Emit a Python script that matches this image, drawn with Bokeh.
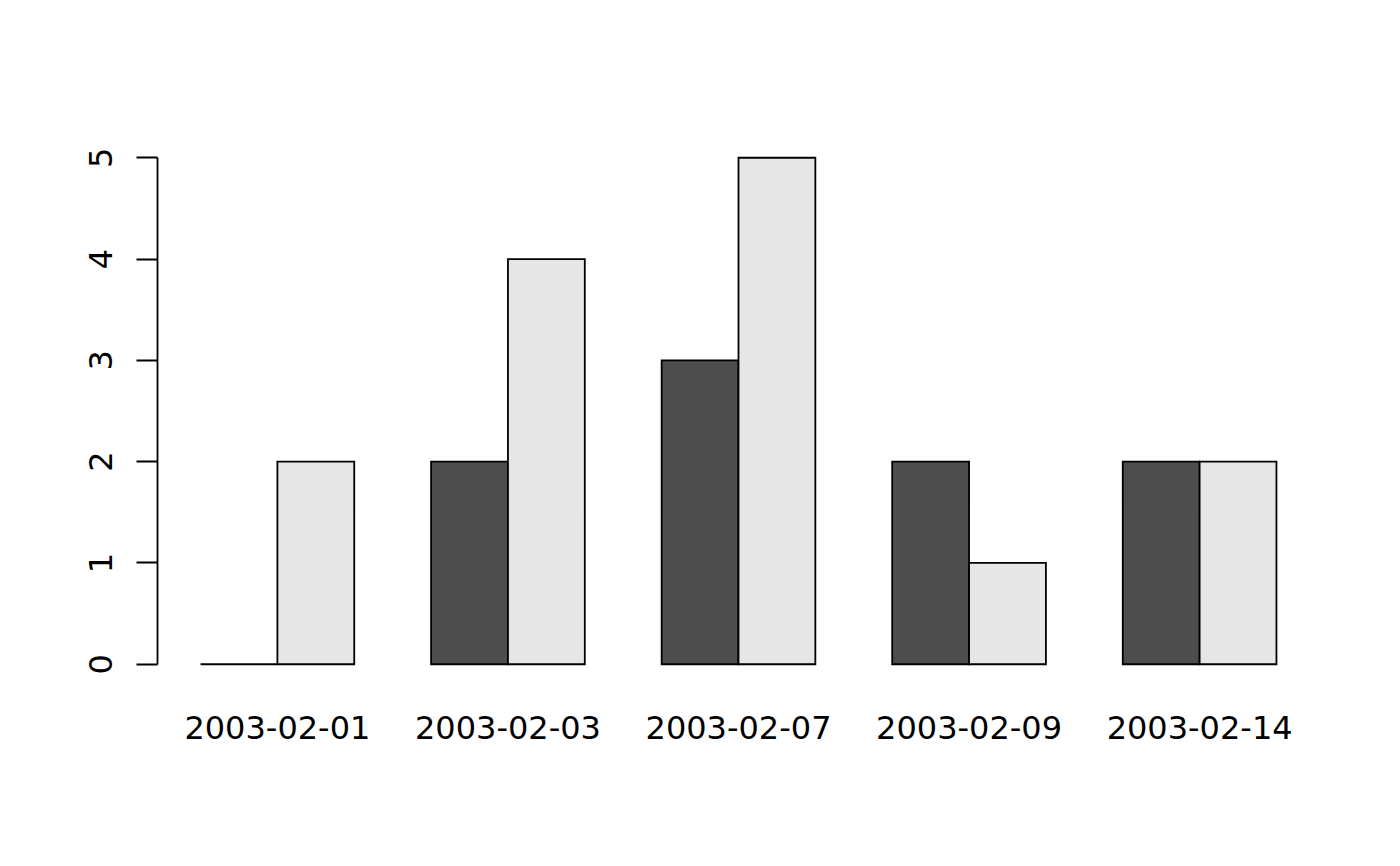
import numpy as np
from bokeh.plotting import figure
from bokeh.models import Range1d, FixedTicker, ColumnDataSource
from bokeh.embed import file_html
from bokeh.resources import INLINE

dates = ["2003-02-01", "2003-02-03", "2003-02-07", "2003-02-09", "2003-02-14"]
series_dark = [0, 2, 3, 2, 2]
series_light = [2, 4, 5, 1, 2]
y_ticks = [0, 1, 2, 3, 4, 5]

n = len(dates)
idx = np.arange(n)
x_dark = 1.5 + 3 * idx
x_light = 2.5 + 3 * idx
centers = 2.0 + 3 * idx

p = figure(width=1392, height=858, output_backend="svg", toolbar_location=None,
           x_range=Range1d(0.44, 15.56), y_range=Range1d(-0.2, 5.2),
           min_border_left=157, min_border_right=73, min_border_top=137, min_border_bottom=174)
p.outline_line_color = None
p.xgrid.grid_line_color = None
p.ygrid.grid_line_color = None
p.background_fill_color = "white"
p.border_fill_color = "white"

lw = 1.8
src_d = ColumnDataSource(dict(x=x_dark, top=series_dark))
src_l = ColumnDataSource(dict(x=x_light, top=series_light))
p.vbar(x="x", top="top", bottom=0, width=1.0, source=src_d,
       fill_color="#4D4D4D", line_color="black", line_width=lw, line_join="miter")
p.vbar(x="x", top="top", bottom=0, width=1.0, source=src_l,
       fill_color="#E6E6E6", line_color="black", line_width=lw, line_join="miter")

font = "DejaVu Sans"
fs = "32px"

ya = p.yaxis[0]
ya.ticker = FixedTicker(ticks=y_ticks)
ya.bounds = (0, 5)
ya.axis_line_color = "black"
ya.axis_line_width = lw
ya.major_tick_line_width = lw
ya.major_tick_out = 21
ya.major_tick_in = 0
ya.minor_tick_out = 0
ya.minor_tick_in = 0
ya.major_label_orientation = "parallel"
ya.major_label_standoff = 24
ya.major_label_text_font = font
ya.major_label_text_font_size = fs
ya.major_label_text_color = "black"

xa = p.xaxis[0]
xa.ticker = FixedTicker(ticks=list(centers))
xa.major_label_overrides = {float(c): d for c, d in zip(centers, dates)}
xa.axis_line_color = None
xa.major_tick_line_color = None
xa.minor_tick_line_color = None
xa.major_tick_out = 0
xa.major_tick_in = 0
xa.major_label_standoff = 31
xa.major_label_text_font = font
xa.major_label_text_font_size = fs
xa.major_label_text_color = "black"

open("out.html", "w").write(file_html(p, INLINE))
